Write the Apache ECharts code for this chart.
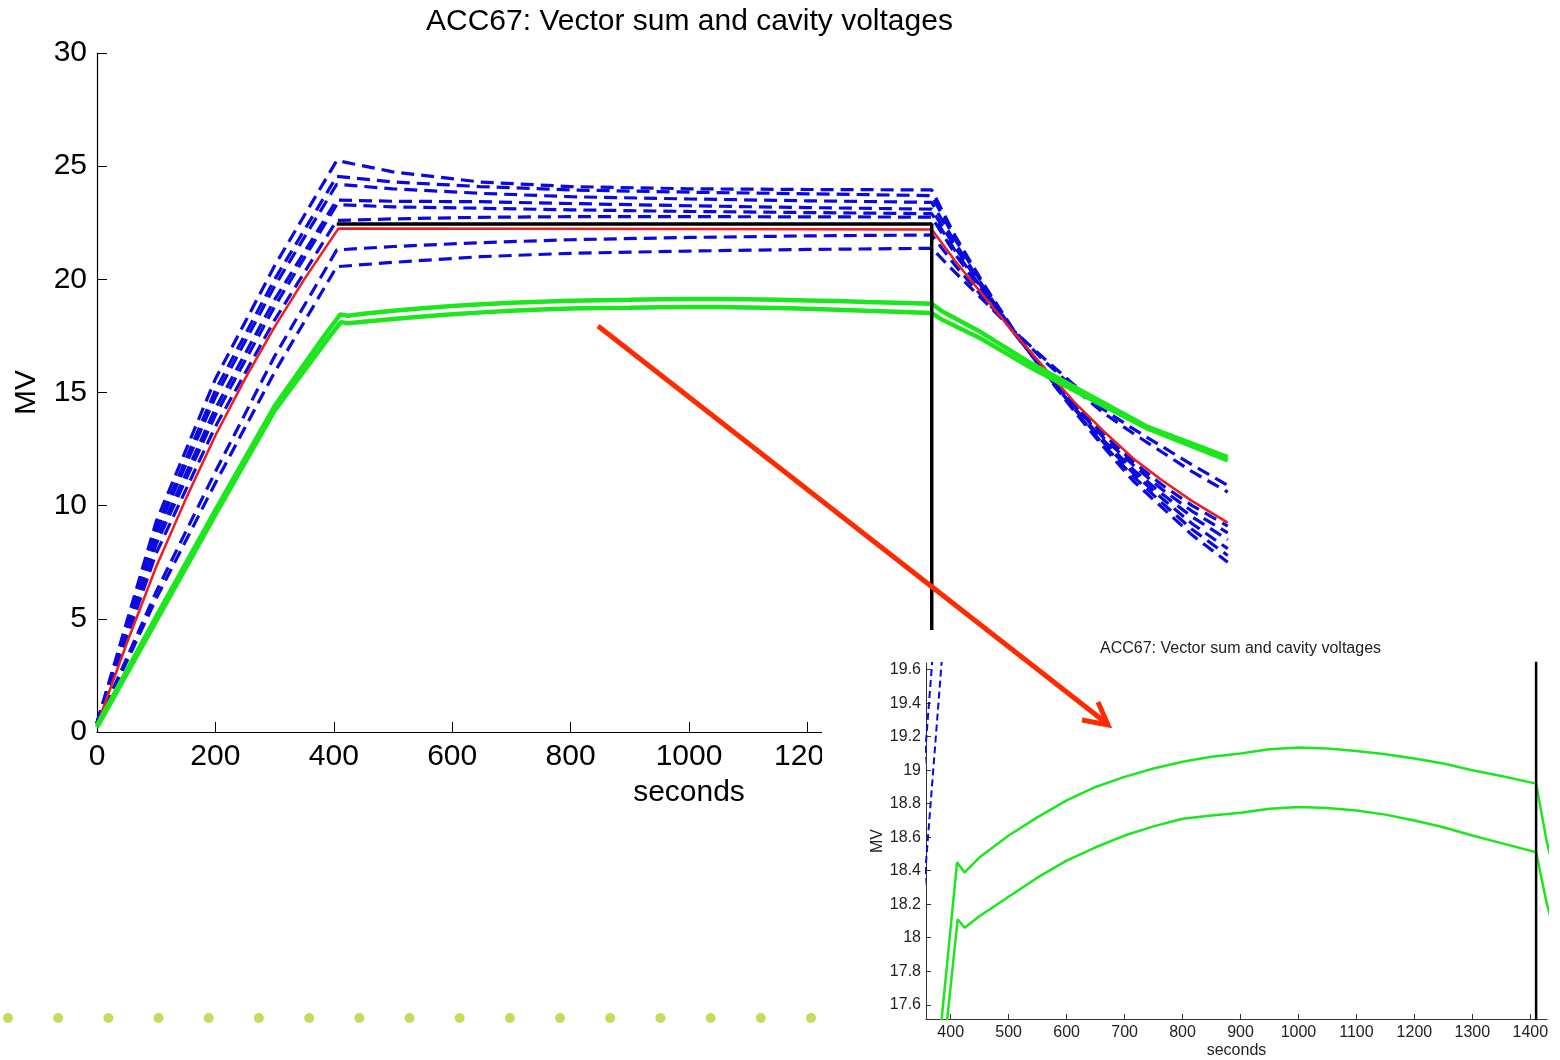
<!DOCTYPE html>
<html><head><meta charset="utf-8">
<script src="https://cdn.jsdelivr.net/npm/echarts@6/dist/echarts.min.js"></script>
<style>html,body{margin:0;padding:0;background:#fff}#c{width:1560px;height:1060px}</style>
</head><body><div id="c"></div>
<script>
// ---------- data ----------
const cavityTime = [0,100,200,300,405,500,647,800,1000,1200,1410,1450,1500,1550,1600,1650,1700,1750,1800,1850,1910];
const cav1 = [0.4,9.3,15.6,20.6,25.25,24.75,24.3,24.1,24.0,23.97,23.95,21.9,19.7,17.7,15.9,14.2,12.6,11.1,9.9,8.7,7.5];
const cav2 = [0.4,9.0,15.1,20.0,24.55,24.3,24.1,23.95,23.85,23.78,23.7,21.75,19.6,17.65,15.9,14.25,12.7,11.3,10.1,8.95,7.8];
const cav3 = [0.4,8.8,14.8,19.7,24.2,24.0,23.8,23.65,23.55,23.47,23.4,21.6,19.55,17.65,15.95,14.3,12.8,11.45,10.3,9.2,8.1];
const cav4 = [0.4,8.5,14.3,19.1,23.5,23.45,23.43,23.35,23.25,23.17,23.1,21.4,19.45,17.6,15.95,14.35,12.9,11.6,10.5,9.5,8.5];
const cav5 = [0.4,8.3,14.0,18.8,23.3,23.2,23.14,23.07,23.0,22.95,22.9,21.25,19.4,17.6,16.0,14.45,13.0,11.8,10.7,9.75,8.8];
const cav6 = [0.4,7.9,13.5,18.2,22.6,22.67,22.74,22.77,22.77,22.76,22.75,21.1,19.3,17.6,16.0,14.5,13.15,11.95,10.9,10.0,9.1];
const cav7 = [0.3,6.2,11.5,16.6,21.3,21.45,21.62,21.75,21.85,21.92,21.96,20.6,19.1,17.7,16.4,15.2,14.1,13.2,12.35,11.5,10.6];
const cav8 = [0.3,5.9,11.0,15.9,20.56,20.75,21.0,21.15,21.25,21.32,21.37,20.3,19.0,17.7,16.5,15.35,14.25,13.4,12.6,11.8,10.9];

const vsumTime = [0,50,100,150,200,250,300,350,408,700,1000,1410,1450,1500,1550,1600,1650,1700,1750,1800,1850,1910];
const vsum = [0.3,3.9,7.3,10.3,13.1,15.6,17.9,20.0,22.25,22.24,22.22,22.2,20.8,19.2,17.6,16.1,14.6,13.3,12.1,11.1,10.2,9.25];

const greenTimeA = [0,100,200,300,384,411,424,450,500,550,600,650,700,750,800,850,900,950,1000,1050,1100,1150,1200,1250,1300,1350,1410,1428,1492,1577,1661,1775,1910];
const greenA = [0.3,5.1,9.8,14.4,17.5,18.45,18.39,18.48,18.61,18.72,18.82,18.9,18.96,19.01,19.05,19.08,19.10,19.125,19.135,19.13,19.115,19.095,19.07,19.04,19.0,18.965,18.92,18.58,17.68,16.3,15.1,13.48,12.15];
const greenTimeB = [0,100,200,300,394,412,424,450,500,550,600,650,700,750,800,850,900,950,1000,1050,1100,1150,1200,1250,1300,1350,1410,1428,1492,1577,1661,1775,1910];
const greenB = [0.2,4.9,9.6,14.2,17.515,18.11,18.06,18.13,18.245,18.36,18.46,18.54,18.61,18.665,18.71,18.73,18.746,18.77,18.78,18.775,18.76,18.735,18.70,18.66,18.61,18.565,18.51,18.21,17.4,16.1,14.95,13.4,12.0];

const setTime = [405,1410,1410];
const setVal = [22.45,22.45,0];

const insetXTicks = [400,500,600,700,800,900,1000,1100,1200,1300,1400];
const insetYTicks = [17.6,17.8,18,18.2,18.4,18.6,18.8,19,19.2,19.4,19.6];

const dotIndex = [0,1,2,3,4,5,6,7,8,9,10,11,12,13,14,15,16];
const dotLevel = [0,0,0,0,0,0,0,0,0,0,0,0,0,0,0,0,0];

const TITLE = 'ACC67: Vector sum and cavity voltages';

// ---------- build ----------
function pairs(xs, ys){ return xs.map((x,i)=>[x, ys[i]]); }
const plain = v => String(v);
const cavs = [cav1,cav2,cav3,cav4,cav5,cav6,cav7,cav8];
const BLUE = '#0a0ae0', RED = '#ee1c1c', GREEN = '#1ee61e', FONT = 'Liberation Sans, Arial, sans-serif';

const series = [];
function addSet(gi, z, w){
  cavs.forEach((c,i)=>series.push({type:'line', name:'cavity '+(i+1), xAxisIndex:gi, yAxisIndex:gi, data:pairs(cavityTime,c), symbol:'none', z:z,
    lineStyle:{color:BLUE, width:w.blue, type:w.dash}}));
  series.push({type:'line', name:'vector sum', xAxisIndex:gi, yAxisIndex:gi, data:pairs(vsumTime,vsum), symbol:'none', z:z+1, lineStyle:{color:RED, width:w.red}});
  series.push({type:'line', name:'green A', xAxisIndex:gi, yAxisIndex:gi, data:pairs(greenTimeA,greenA), symbol:'none', z:z+2, lineStyle:{color:GREEN, width:w.green}});
  series.push({type:'line', name:'green B', xAxisIndex:gi, yAxisIndex:gi, data:pairs(greenTimeB,greenB), symbol:'none', z:z+2, lineStyle:{color:GREEN, width:w.green}});
  series.push({type:'line', name:'setpoint', xAxisIndex:gi, yAxisIndex:gi, data:pairs(setTime,setVal), symbol:'none', z:z+3, lineStyle:{color:'#000', width:w.black}});
}
addSet(0, 2, {blue:3.2, dash:[13,7], red:2.5, green:4.5, black:3.5});
addSet(1, 60, {blue:2, dash:[7,4], red:2, green:2.5, black:2.5});
series.push({type:'scatter', xAxisIndex:2, yAxisIndex:2, data:pairs(dotIndex,dotLevel), symbolSize:10, itemStyle:{color:'#b5d334'}, z:5});

const option = {
  animation:false,
  backgroundColor:'#fff',
  title:[
    {text:TITLE, left:421, top:2, textStyle:{fontSize:30, fontWeight:'normal', color:'#000', fontFamily:FONT}},
    {text:TITLE, left:1095, top:636, z:60, textStyle:{fontSize:16, fontWeight:'normal', color:'#222', fontFamily:FONT}}
  ],
  grid:[
    {left:97, top:53, width:1184, height:679},
    {left:926, top:663, width:621, height:356, z:60},
    {left:8, top:1008, width:803, height:20}
  ],
  xAxis:[
    {type:'value', gridIndex:0, min:0, max:2000, interval:200,
     axisLine:{show:true, lineStyle:{color:'#000', width:1.2}},
     axisTick:{show:true, inside:true, length:10, lineStyle:{color:'#000'}},
     axisLabel:{fontSize:30, color:'#000', margin:10, fontFamily:FONT, formatter:plain},
     splitLine:{show:false},
     name:'seconds', nameLocation:'middle', nameGap:46, nameTextStyle:{fontSize:30, color:'#000', fontFamily:FONT}},
    {type:'value', gridIndex:1, min:357.4, max:1428.8, z:60,
     axisLine:{show:true, onZero:false, lineStyle:{color:'#333', width:1}},
     axisTick:{show:true, inside:true, length:5, customValues:insetXTicks, lineStyle:{color:'#333'}},
     axisLabel:{fontSize:16, color:'#222', margin:6, customValues:insetXTicks, fontFamily:FONT, formatter:plain},
     splitLine:{show:false},
     name:'seconds', nameLocation:'middle', nameGap:24, nameTextStyle:{fontSize:16, color:'#222', fontFamily:FONT}},
    {type:'value', gridIndex:2, min:0, max:16, show:false}
  ],
  yAxis:[
    {type:'value', gridIndex:0, min:0, max:30, interval:5,
     axisLine:{show:true, lineStyle:{color:'#000', width:1.2}},
     axisTick:{show:true, inside:true, length:10, lineStyle:{color:'#000'}},
     axisLabel:{fontSize:30, color:'#000', margin:10, fontFamily:FONT, formatter:plain},
     splitLine:{show:false},
     name:'MV', nameLocation:'middle', nameGap:55, nameRotate:90, nameTextStyle:{fontSize:30, color:'#000', fontFamily:FONT}},
    {type:'value', gridIndex:1, min:17.515, max:19.64, z:60,
     axisLine:{show:true, onZero:false, lineStyle:{color:'#333', width:1}},
     axisTick:{show:true, inside:true, length:5, customValues:insetYTicks, lineStyle:{color:'#333'}},
     axisLabel:{fontSize:16, color:'#222', margin:5, customValues:insetYTicks, fontFamily:FONT, formatter:plain},
     splitLine:{show:false},
     name:'MV', nameLocation:'middle', nameGap:40, nameRotate:90, nameTextStyle:{fontSize:16, color:'#222', fontFamily:FONT}},
    {type:'value', gridIndex:2, min:-1, max:1, show:false}
  ],
  graphic:{elements:[
    {type:'rect', z:50, shape:{x:822, y:630, width:738, height:430}, style:{fill:'#fff'}},
    {type:'polyline', z:80, shape:{points:[[598,326],[1105,722]]}, style:{stroke:'#ff2a00', lineWidth:5, fill:null}},
    {type:'polyline', z:80, shape:{points:[[1082,720],[1108,725],[1098,702]]}, style:{stroke:'#ff2a00', lineWidth:5, fill:null, lineJoin:'miter'}}
  ]},
  series:series
};
const chart = echarts.init(document.getElementById('c'), null, {renderer:'canvas'});
chart.setOption(option);
</script>
</body></html>
